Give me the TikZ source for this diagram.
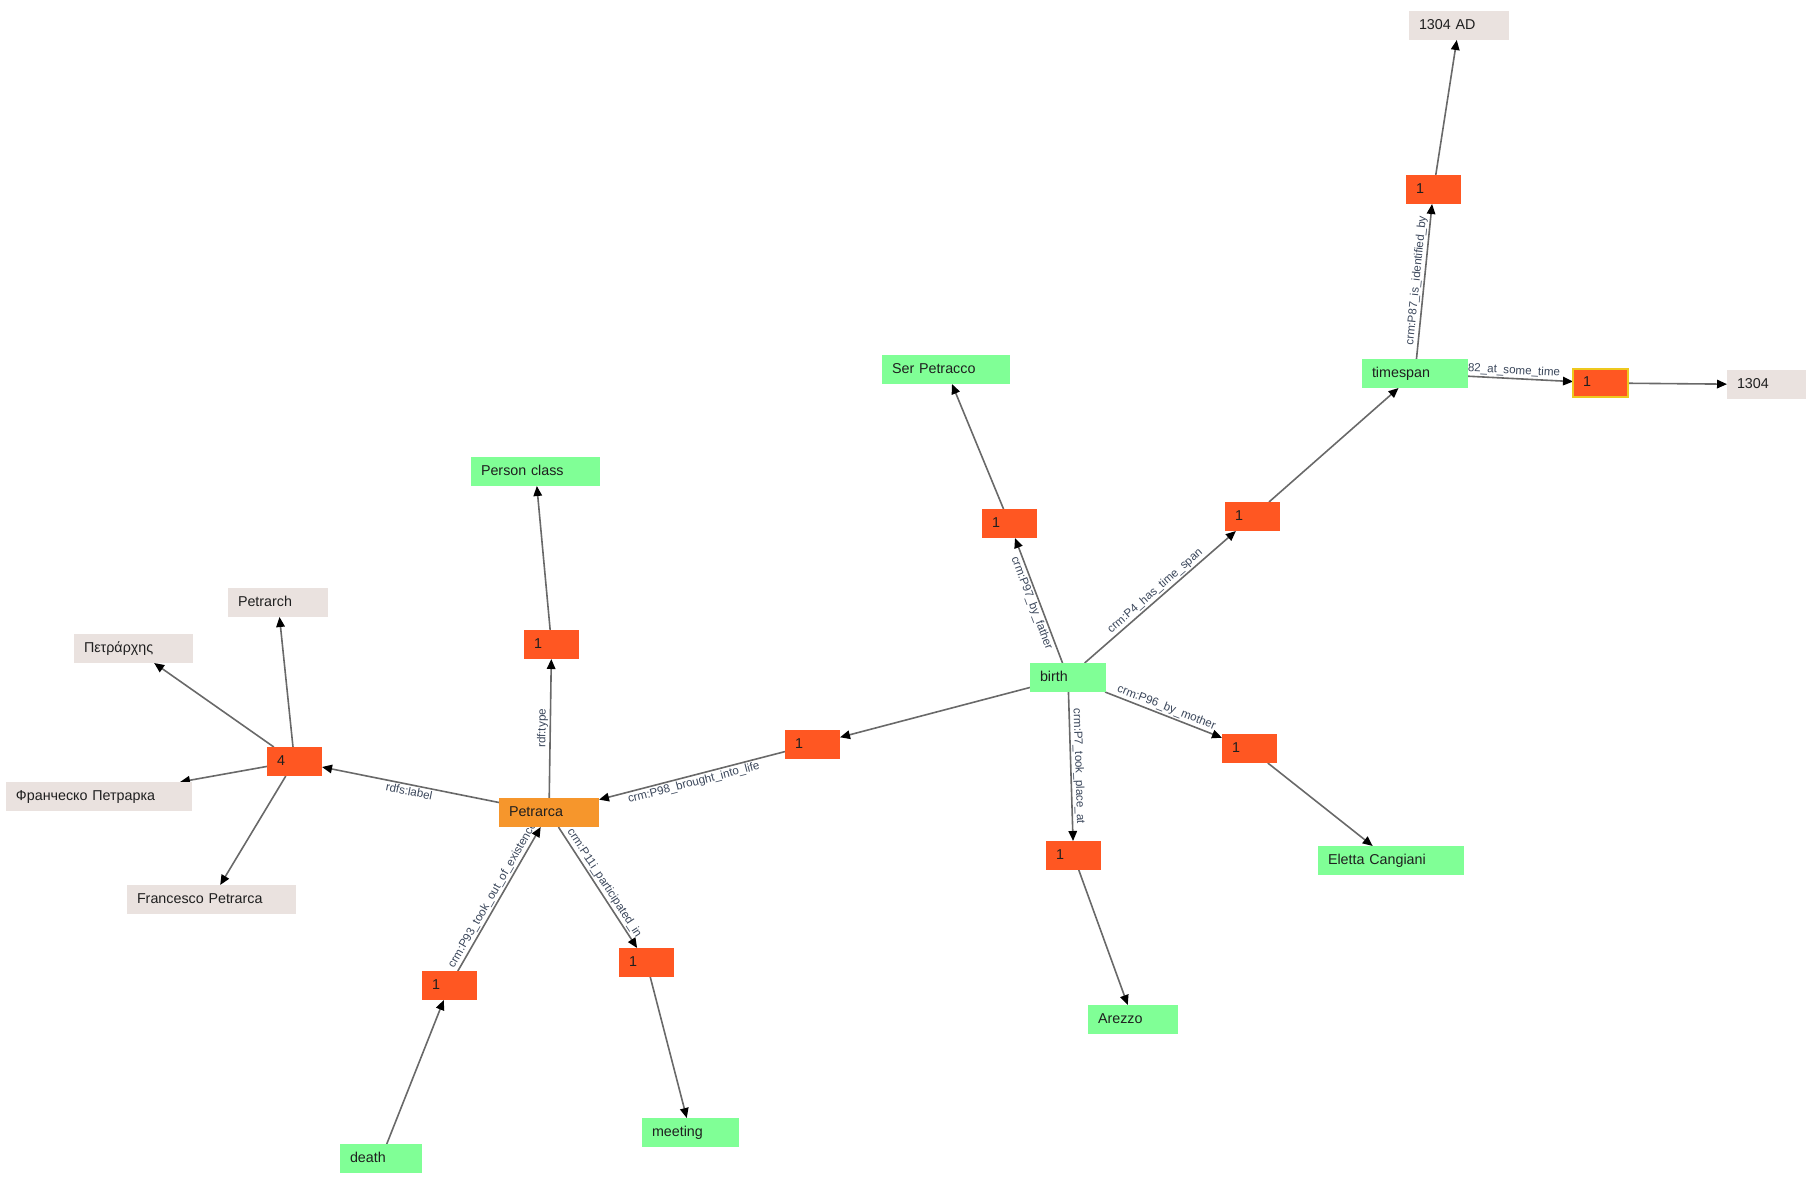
\documentclass[tikz,border=0pt]{standalone}
\usepackage{fontspec}
\setmainfont{Liberation Sans}
\usepackage{tikz}
\usetikzlibrary{arrows.meta, backgrounds}

\definecolor{clsgreen}{RGB}{128,255,150}
\definecolor{litgrey}{RGB}{234,226,223}
\definecolor{blankorange}{RGB}{255,87,34}
\definecolor{focusorange}{RGB}{246,150,44}
\definecolor{pickyellow}{RGB}{238,200,30}
\definecolor{edgegrey}{RGB}{105,105,105}
\definecolor{labelblue}{RGB}{58,70,90}

\tikzset{
  box/.style={rectangle, anchor=north west, inner xsep=10pt, inner ysep=0pt,
    outer sep=0pt, minimum height=29pt, align=left, text height=10.5pt,
    text depth=3pt, font=\fontsize{14.3}{17}\selectfont, text=black!88},
  cls/.style={box, fill=clsgreen},
  lit/.style={box, fill=litgrey},
  focus/.style={box, fill=focusorange},
  blank/.style={box, fill=blankorange, text width=35pt},
  rel/.style={draw=edgegrey, line width=1.6pt,
    -{Triangle[length=10pt, width=8.5pt, color=black]}},
  lbl/.style={sloped, inner sep=1.5pt, text=labelblue,
    font=\fontsize{11.6}{13}\selectfont}
}

\begin{document}
\begin{tikzpicture}[x=1pt, y=-1pt]
  \useasboundingbox (0,0) rectangle (1809,1181);
  % person and its type
  \node[focus, text width=80pt] (petrarca) at (499,798) {Petrarca};
  \node[blank] (otype) at (524,630) {1};
  \node[cls, text width=109pt] (person) at (471,457) {Person class};
  % names of the person
  \node[blank] (olabel) at (267,747) {4};
  \node[lit, text width=80pt] (petrarch) at (228,588) {Petrarch};
  \node[lit, text width=99pt] (greek) at (74,634) {Πετράρχης};
  \node[lit, text width=166pt] (russian) at (6,782) {Франческо Петрарка};
  \node[lit, text width=149pt] (francesco) at (127,885) {Francesco Petrarca};
  % death and meeting
  \node[blank] (odeath) at (422,971) {1};
  \node[cls, text width=62pt] (death) at (340,1144) {death};
  \node[blank] (omeet) at (619,948) {1};
  \node[cls, text width=77pt] (meeting) at (642,1118) {meeting};
  % birth event
  \node[blank] (obirth) at (785,730) {1};
  \node[cls, text width=56pt] (birth) at (1030,663) {birth};
  \node[blank] (ofather) at (982,509) {1};
  \node[cls, text width=108pt] (serp) at (882,355) {Ser Petracco};
  \node[blank] (omother) at (1222,734) {1};
  \node[cls, text width=126pt] (eletta) at (1318,846) {Eletta Cangiani};
  \node[blank] (oplace) at (1046,841) {1};
  \node[cls, text width=70pt] (arezzo) at (1088,1005) {Arezzo};
  % time span
  \node[blank] (ospan) at (1225,502) {1};
  \node[cls, text width=86pt] (timespan) at (1362,359) {timespan};
  \node[blank] (oident) at (1406,175) {1};
  \node[lit, text width=80pt] (ad) at (1409,11) {1304 AD};
  \node[blank, draw=pickyellow, line width=2pt, minimum height=28pt]
    (otime) at (1573,369) {1};
  \node[lit, text width=59pt] (y1304) at (1727,370) {1304};

  \begin{scope}[on background layer]
    \draw[rel] (petrarca) -- node[lbl, above] {rdf:type} (otype);
    \draw[rel] (otype) -- (person);
    \draw[rel] (petrarca) -- node[lbl, below] {rdfs:label} (olabel);
    \draw[rel] (olabel) -- (petrarch);
    \draw[rel] (olabel) -- (greek);
    \draw[rel] (olabel) -- (russian);
    \draw[rel] (olabel) -- (francesco);
    \draw[rel] (death) -- (odeath);
    \draw[rel] (odeath) -- node[lbl, above] {crm:P93\_took\_out\_of\_existence} (petrarca);
    \draw[rel] (petrarca) -- node[lbl, above] {crm:P11i\_participated\_in} (omeet);
    \draw[rel] (omeet) -- (meeting);
    \draw[rel] (birth) -- (obirth);
    \draw[rel] (obirth) -- node[lbl, below] {crm:P98\_brought\_into\_life} (petrarca);
    \draw[rel] (birth) -- node[lbl, below] {crm:P97\_by\_father} (ofather);
    \draw[rel] (ofather) -- (serp);
    \draw[rel] (birth) -- node[lbl, above] {crm:P96\_by\_mother} (omother);
    \draw[rel] (omother) -- (eletta);
    \draw[rel] (birth) -- node[lbl, above] {crm:P7\_took\_place\_at} (oplace);
    \draw[rel] (oplace) -- (arezzo);
    \draw[rel] (birth) -- node[lbl, above] {crm:P4\_has\_time\_span} (ospan);
    \draw[rel] (ospan) -- (timespan);
    \draw[rel] (timespan) -- node[lbl, above] {crm:P87\_is\_identified\_by} (oident);
    \draw[rel] (oident) -- (ad);
    \draw[rel] (timespan) -- node[lbl, above, pos=0.29] {crm:P82\_at\_some\_time} (otime);
    \draw[rel] (otime) -- (y1304);
  \end{scope}
\end{tikzpicture}
\end{document}
